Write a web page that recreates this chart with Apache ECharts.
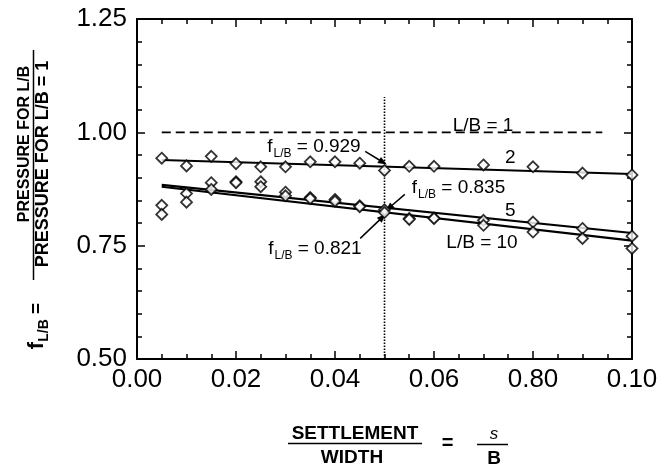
<!DOCTYPE html>
<html>
<head>
<meta charset="utf-8">
<script src="https://cdn.jsdelivr.net/npm/echarts@6/dist/echarts.min.js"></script>
<style>html,body{margin:0;padding:0;background:#fff}#c{width:670px;height:474px}</style>
</head>
<body>
<div id="c"></div>
<script>
// ---- data ----
const xTickLabels = ['0.00', '0.02', '0.04', '0.06', '0.80', '0.10'];
const yTickLabels = ['0.50', '0.75', '1.00', '1.25'];

const ptX = [0.005, 0.01, 0.015, 0.02, 0.025, 0.03, 0.035, 0.04, 0.045, 0.05, 0.055, 0.06, 0.07, 0.08, 0.09, 0.10];
const lb2Y  = [0.943, 0.926, 0.947, 0.931, 0.924, 0.924, 0.935, 0.935, 0.932, 0.916, 0.925, 0.925, 0.928, 0.924, 0.910, 0.906];
const lb5Y  = [0.839, 0.865, 0.889, 0.891, 0.891, 0.868, 0.856, 0.852, 0.838, 0.829, 0.810, 0.811, 0.806, 0.802, 0.788, 0.771];
const lb10Y = [0.819, 0.846, 0.874, 0.889, 0.880, 0.860, 0.854, 0.848, 0.836, 0.823, 0.808, 0.810, 0.795, 0.780, 0.766, 0.744];

const fitX = [0.005, 0.10];
const fit2Y = [0.939, 0.908];
const fit5Y = [0.884, 0.778];
const fit10Y = [0.880, 0.761];

const lb1X = [0.005, 0.094];
const lb1Y = [1.0, 1.0];

const refX = [0.05, 0.05];
const refY = [0.50, 1.078];

const fValues = ['0.929', '0.835', '0.821'];
const fPos = [[0.0263, 0.969], [0.0555, 0.877], [0.0265, 0.744]];
const arrows = [
  [[0.0461, 0.958], [0.0497, 0.934]],
  [[0.0541, 0.863], [0.0509, 0.833]],
  [[0.0451, 0.766], [0.0496, 0.813]]
];
const curveLabels = ['L/B = 1', '2', '5', 'L/B = 10'];
const curveLabelPos = [[0.0699, 1.015], [0.0754, 0.943], [0.0754, 0.827], [0.0697, 0.7555]];

// ---- chart ----
const FONT = '"Liberation Sans", Arial, Helvetica, sans-serif';
const zip = (xs, ys) => xs.map((x, i) => [x, ys[i]]);
const chart = echarts.init(document.getElementById('c'), null, { renderer: 'canvas' });

const axisCommon = {
  axisLine: { show: true, onZero: false, lineStyle: { color: '#000', width: 2 } },
  axisTick: { show: true, inside: true, length: 8, lineStyle: { color: '#000', width: 1.5 } },
  minorTick: { show: true, length: 5, lineStyle: { color: '#000', width: 1.5 } },
  splitLine: { show: false },
  minorSplitLine: { show: false }
};

const scatterStyle = {
  type: 'scatter', symbol: 'diamond', symbolSize: 11,
  itemStyle: { color: '#fff', borderColor: '#000', borderWidth: 1.8 },
  z: 5, silent: true
};
const lineStyleSeries = (data, w, extra) => Object.assign({
  type: 'line', data: data, symbol: 'none', silent: true, z: 3,
  lineStyle: { color: '#000', width: w }
}, extra || {});

const option = {
  animation: false,
  backgroundColor: '#fff',
  grid: { left: 137, right: 38, top: 19, bottom: 115 },
  xAxis: [
    Object.assign({}, axisCommon, {
      type: 'value', min: 0, max: 0.1, interval: 0.02, position: 'bottom',
      minorTick: Object.assign({}, axisCommon.minorTick, { splitNumber: 4 }),
      axisLabel: {
        show: true, margin: 8, color: '#000', fontSize: 26, fontFamily: FONT,
        formatter: (v, i) => xTickLabels[i]
      }
    }),
    Object.assign({}, axisCommon, {
      type: 'value', min: 0, max: 0.1, interval: 0.02, position: 'top',
      minorTick: Object.assign({}, axisCommon.minorTick, { splitNumber: 4 }),
      axisLabel: { show: false }
    })
  ],
  yAxis: [
    Object.assign({}, axisCommon, {
      type: 'value', min: 0.5, max: 1.25, interval: 0.25, position: 'left',
      minorTick: Object.assign({}, axisCommon.minorTick, { splitNumber: 5 }),
      axisLabel: {
        show: true, margin: 10, color: '#000', fontSize: 26, fontFamily: FONT,
        formatter: (v, i) => yTickLabels[i]
      }
    }),
    Object.assign({}, axisCommon, {
      type: 'value', min: 0.5, max: 1.25, interval: 0.25, position: 'right',
      minorTick: Object.assign({}, axisCommon.minorTick, { splitNumber: 5 }),
      axisLabel: { show: false }
    })
  ],
  series: [
    lineStyleSeries(zip(lb1X, lb1Y), 1.6, { lineStyle: { color: '#000', width: 1.6, type: [9, 5] } }),
    lineStyleSeries(zip(refX, refY), 1.6, { lineStyle: { color: '#000', width: 1.6, type: [1.5, 1.5] } }),
    lineStyleSeries(zip(fitX, fit2Y), 2),
    lineStyleSeries(zip(fitX, fit5Y), 2.2),
    lineStyleSeries(zip(fitX, fit10Y), 2.2),
    Object.assign({}, scatterStyle, { data: zip(ptX, lb2Y) }),
    Object.assign({}, scatterStyle, { data: zip(ptX, lb5Y) }),
    Object.assign({}, scatterStyle, { data: zip(ptX, lb10Y) }),
    {
      type: 'line', data: [], silent: true, z: 6,
      markLine: {
        silent: true, animation: false,
        symbol: ['none', 'triangle'], symbolSize: [7, 9],
        label: { show: false },
        lineStyle: { color: '#000', width: 1.5, type: 'solid' },
        emphasis: { disabled: true },
        data: arrows.map(a => [{ coord: a[0] }, { coord: a[1] }])
      }
    }
  ]
};
chart.setOption(option);

// ---- annotations & axis titles ----
const px = p => chart.convertToPixel({ xAxisIndex: 0, yAxisIndex: 0 }, p);
const richF = {
  f: { fontSize: 19, fontFamily: FONT, color: '#000', lineHeight: 26, verticalAlign: 'middle' },
  s: { fontSize: 12, fontFamily: FONT, color: '#000', lineHeight: 26, verticalAlign: 'bottom', padding: [0, 0, 0, 1] },
  n: { fontSize: 19, fontFamily: FONT, color: '#000', lineHeight: 26, verticalAlign: 'middle' }
};
const graphics = [];
fValues.forEach((v, i) => {
  const p = px(fPos[i]);
  graphics.push({
    type: 'text', x: p[0], y: p[1], z: 10,
    style: { text: '{f|f}{s|L/B}{n| = ' + v + '}', rich: richF, align: 'left', verticalAlign: 'middle', textAlign: 'left', textVerticalAlign: 'middle' }
  });
});
curveLabels.forEach((t, i) => {
  const p = px(curveLabelPos[i]);
  graphics.push({
    type: 'text', x: p[0], y: p[1], z: 10,
    style: { text: t, font: '19px ' + FONT, fill: '#000', align: 'center', verticalAlign: 'middle', textAlign: 'center', textVerticalAlign: 'middle' }
  });
});

// y axis title (rotated)
const rot = Math.PI / 2;
graphics.push(
  { type: 'text', x: 25, y: 144, rotation: rot,
    style: { text: 'PRESSURE FOR L/B', font: 'bold 16px ' + FONT, fill: '#000', align: 'center', verticalAlign: 'middle', textAlign: 'center', textVerticalAlign: 'middle' } },
  { type: 'line', shape: { x1: 33.5, y1: 50, x2: 33.5, y2: 280 }, style: { stroke: '#000', lineWidth: 1.5 } },
  { type: 'text', x: 43, y: 164, rotation: rot,
    style: { text: 'PRESSURE FOR L/B = 1', font: 'bold 18px ' + FONT, fill: '#000', align: 'center', verticalAlign: 'middle', textAlign: 'center', textVerticalAlign: 'middle' } },
  { type: 'text', x: 37, y: 326, rotation: rot,
    style: {
      text: '{f|f}{s|L/B}{n| =}', align: 'center', verticalAlign: 'middle', textAlign: 'center', textVerticalAlign: 'middle',
      rich: {
        f: { fontSize: 22, fontFamily: FONT, fontWeight: 'bold', color: '#000', lineHeight: 28, verticalAlign: 'middle' },
        s: { fontSize: 14, fontFamily: FONT, fontWeight: 'bold', color: '#000', lineHeight: 28, verticalAlign: 'bottom' },
        n: { fontSize: 19, fontFamily: FONT, fontWeight: 'bold', color: '#000', lineHeight: 28, verticalAlign: 'middle' }
      }
    } }
);

// x axis title
graphics.push(
  { type: 'text', x: 355, y: 434, style: { text: 'SETTLEMENT', font: 'bold 19px ' + FONT, fill: '#000', align: 'center', verticalAlign: 'middle', textAlign: 'center', textVerticalAlign: 'middle' } },
  { type: 'line', shape: { x1: 288, y1: 443.5, x2: 422, y2: 443.5 }, style: { stroke: '#000', lineWidth: 1.5 } },
  { type: 'text', x: 352, y: 458, style: { text: 'WIDTH', font: 'bold 19px ' + FONT, fill: '#000', align: 'center', verticalAlign: 'middle', textAlign: 'center', textVerticalAlign: 'middle' } },
  { type: 'text', x: 447.5, y: 443, style: { text: '=', font: 'bold 20px ' + FONT, fill: '#000', align: 'center', verticalAlign: 'middle', textAlign: 'center', textVerticalAlign: 'middle' } },
  { type: 'text', x: 494, y: 434, style: { text: 's', font: 'italic 17px ' + FONT, fill: '#000', align: 'center', verticalAlign: 'middle', textAlign: 'center', textVerticalAlign: 'middle' } },
  { type: 'line', shape: { x1: 477, y1: 444.5, x2: 508, y2: 444.5 }, style: { stroke: '#000', lineWidth: 1.5 } },
  { type: 'text', x: 494, y: 459, style: { text: 'B', font: 'bold 19px ' + FONT, fill: '#000', align: 'center', verticalAlign: 'middle', textAlign: 'center', textVerticalAlign: 'middle' } }
);

chart.setOption({ graphic: { elements: graphics } });
</script>
</body>
</html>
